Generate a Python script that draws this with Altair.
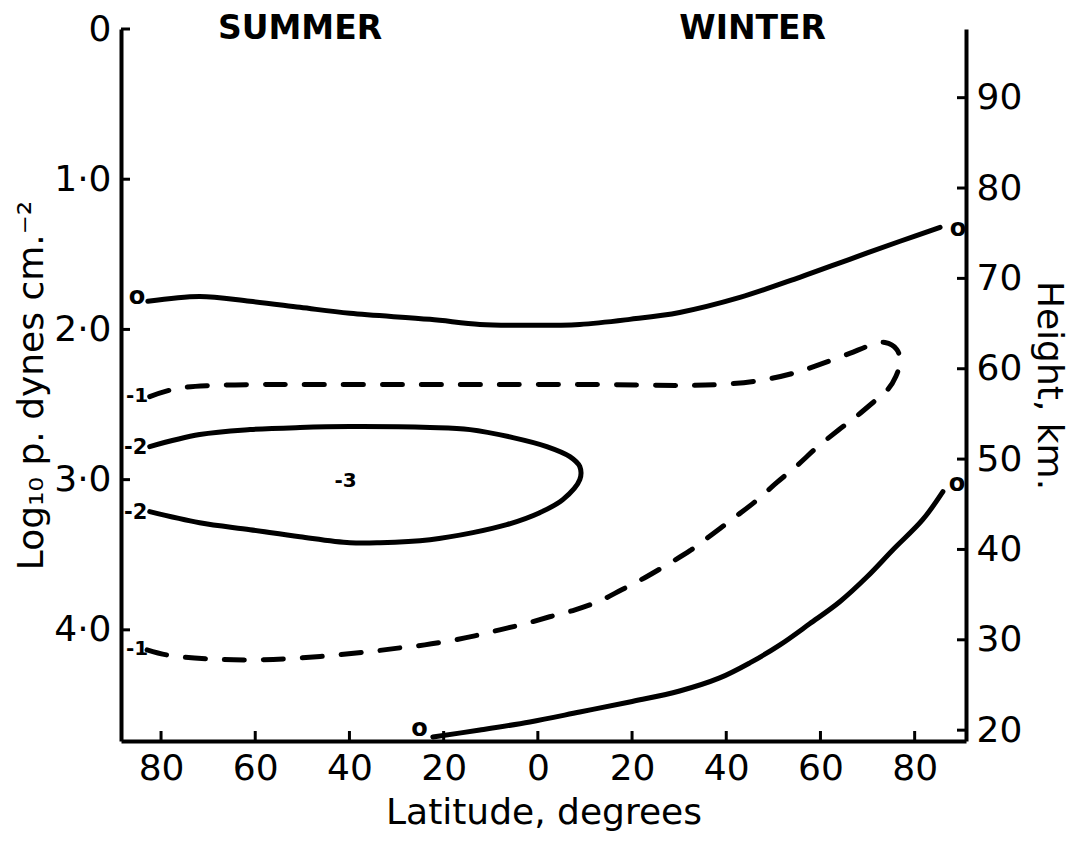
import altair as alt
import pandas as pd

# ---- axis ticks -------------------------------------------------------
x_ticks = [-80, -60, -40, -20, 0, 20, 40, 60, 80]      # summer (neg) .. winter (pos)
lp_ticks = [0, 1, 2, 3, 4]                             # log10 p
km_ticks = [20, 30, 40, 50, 60, 70, 80, 90]            # height, km

# ---- contour lines (latitude, log10 p) ---------------------------------
c0_upper_lat = [-82.8, -71.8, -61.1, -50.5, -39.9, -22.9, -12.3, -1.7, 8.9, 19.5, 30.1, 42.9, 55.6, 66.2, 76.9, 85.4]
c0_upper_lp = [1.813, 1.78, 1.813, 1.853, 1.893, 1.933, 1.967, 1.973, 1.967, 1.933, 1.887, 1.787, 1.653, 1.533, 1.413, 1.32]

c0_lower_lat = [-22.3, -12.3, -1.7, 8.9, 19.5, 30.1, 38.6, 45.0, 51.4, 57.7, 64.1, 69.9, 75.4, 81.7, 86.0]
c0_lower_lp = [4.713, 4.667, 4.613, 4.547, 4.48, 4.407, 4.32, 4.22, 4.10, 3.96, 3.813, 3.647, 3.467, 3.267, 3.08]

c1_lat = [-82.4, -76.6, -69.0, -59.7, -50.5, -29.3, -8.1, 13.2, 30.1, 38.6, 47.1, 54.1, 59.9, 66.2,
          70.5, 73.7, 76.2, 76.9, 76.0, 74.3, 70.9, 67.3, 63.7, 59.2, 55.0, 50.7, 46.1, 41.4, 36.9,
          32.3, 27.4, 22.7, 17.8, 13.2, 7.9, 2.5, -2.8, -8.1, -13.4, -18.7, -24.0, -29.3, -36.3,
          -44.8, -53.3, -61.8, -70.3, -78.8, -83.0]
c1_lp = [2.447, 2.393, 2.373, 2.367, 2.367, 2.367, 2.367, 2.367, 2.373, 2.367, 2.34, 2.293, 2.233, 2.16,
         2.107, 2.087, 2.133, 2.213, 2.313, 2.40, 2.493, 2.587, 2.673, 2.787, 2.907, 3.02, 3.147, 3.26,
         3.367, 3.473, 3.567, 3.653, 3.733, 3.807, 3.867, 3.913, 3.96, 4.0, 4.04, 4.073, 4.10, 4.12,
         4.147, 4.173, 4.193, 4.20, 4.193, 4.167, 4.133]

c2_lat = [-82.4, -71.8, -61.1, -50.5, -39.9, -22.9, -14.4, -5.3, 1.9, 6.8, 8.9, 8.9, 5.3, 0.4, -6.6,
          -13.8, -22.9, -33.5, -39.9, -50.5, -61.1, -71.8, -82.4]
c2_lp = [2.78, 2.70, 2.667, 2.653, 2.647, 2.653, 2.667, 2.72, 2.78, 2.847, 2.913, 3.0, 3.133, 3.22, 3.30,
         3.353, 3.40, 3.42, 3.42, 3.38, 3.333, 3.287, 3.213]

# ---- contour value labels ---------------------------------------------
lab_text = ["o", "o", "o", "o", "-1", "-1", "-2", "-2", "-3"]
lab_lat = [-85.1, 89.2, -25.1, 89.0, -85.1, -85.1, -85.4, -85.4, -40.8]
lab_lp = [1.787, 1.333, 4.66, 3.027, 2.44, 4.127, 2.787, 3.22, 3.007]
lab_size = [24, 24, 24, 24, 20, 20, 21, 21, 20]

season_text = ["SUMMER", "WINTER"]
season_lat = [-50.5, 45.6]
season_lp = [0.0, 0.0]

W, H = 845, 712
FONT = "DejaVu Sans"


def path(name, lats, lps):
    return pd.DataFrame({"lat": lats, "lp": lps, "id": name, "seq": list(range(len(lats)))})


solid_df = pd.concat([path("c0u", c0_upper_lat, c0_upper_lp),
                      path("c0l", c0_lower_lat, c0_lower_lp),
                      path("c2", c2_lat, c2_lp)])
dashed_df = path("c1", c1_lat, c1_lp)
labels_df = pd.DataFrame({"lat": lab_lat, "lp": lab_lp, "t": lab_text, "fs": lab_size})
season_df = pd.DataFrame({"lat": season_lat, "lp": season_lp, "t": season_text})

x_enc = alt.X("lat:Q",
              scale=alt.Scale(domain=[-88.5, 90.9], nice=False, zero=False),
              axis=alt.Axis(values=x_ticks, labelExpr="abs(datum.value)", title="Latitude,  degrees",
                            labelPadding=10, titlePadding=9, labelFlush=False))
y_enc = alt.Y("lp:Q",
              scale=alt.Scale(domain=[0, 4.74], reverse=True, nice=False, zero=False),
              axis=alt.Axis(values=lp_ticks,
                            labelExpr="datum.value == 0 ? '0' : replace(format(datum.value, '.1f'), '.', '·')",
                            title="Log₁₀ p.  dynes  cm.⁻²", labelPadding=10, titlePadding=3))

solid = alt.Chart(solid_df).mark_line(color="black", strokeWidth=5, interpolate="catmull-rom",
                                      strokeCap="round", strokeJoin="round").encode(
    x=x_enc, y=y_enc, detail="id:N", order="seq:Q")
dashed = alt.Chart(dashed_df).mark_line(color="black", strokeWidth=5, interpolate="catmull-rom",
                                        strokeCap="round", strokeDash=[20, 19]).encode(
    x=x_enc, y=y_enc, detail="id:N", order="seq:Q")
labels = alt.Chart(labels_df).mark_text(font=FONT, fontWeight="bold", color="black").encode(
    x=x_enc, y=y_enc, text="t:N", size=alt.Size("fs:Q", scale=None, legend=None))
seasons = alt.Chart(season_df).mark_text(font=FONT, fontWeight="bold", fontSize=33, color="black",
                                         baseline="middle").encode(x=x_enc, y=y_enc, text="t:N")

xt = alt.Chart(pd.DataFrame({"lat": x_ticks})).mark_rule(color="black", strokeWidth=3).encode(
    x=x_enc, y=alt.value(H), y2=alt.value(H - 10))
yt = alt.Chart(pd.DataFrame({"lp": lp_ticks})).mark_rule(color="black", strokeWidth=3).encode(
    y=y_enc, x=alt.value(0), x2=alt.value(9))

left = alt.layer(solid, dashed, labels, seasons, xt, yt)

km = alt.Chart(pd.DataFrame({"km": km_ticks})).mark_rule(color="black", strokeWidth=3).encode(
    y=alt.Y("km:Q", scale=alt.Scale(domain=[18.8, 97.6], nice=False, zero=False),
            axis=alt.Axis(orient="right", values=km_ticks, title="Height,  km.",
                          labelPadding=10, titlePadding=8)),
    x=alt.value(W), x2=alt.value(W - 9))

chart = alt.layer(left, km).resolve_scale(y="independent").properties(
    width=W, height=H,
    autosize=alt.AutoSizeParams(type="none"),
    padding={"left": 113, "top": 21, "right": 106, "bottom": 95},
).configure_view(stroke=None).configure_axis(
    domainWidth=4, domainColor="black", ticks=False, grid=False,
    labelFont=FONT, labelFontSize=36, labelColor="black",
    titleFont=FONT, titleFontSize=36, titleFontWeight="normal", titleColor="black",
)

chart.save("out.html", embed_options={"renderer": "svg", "actions": False})
